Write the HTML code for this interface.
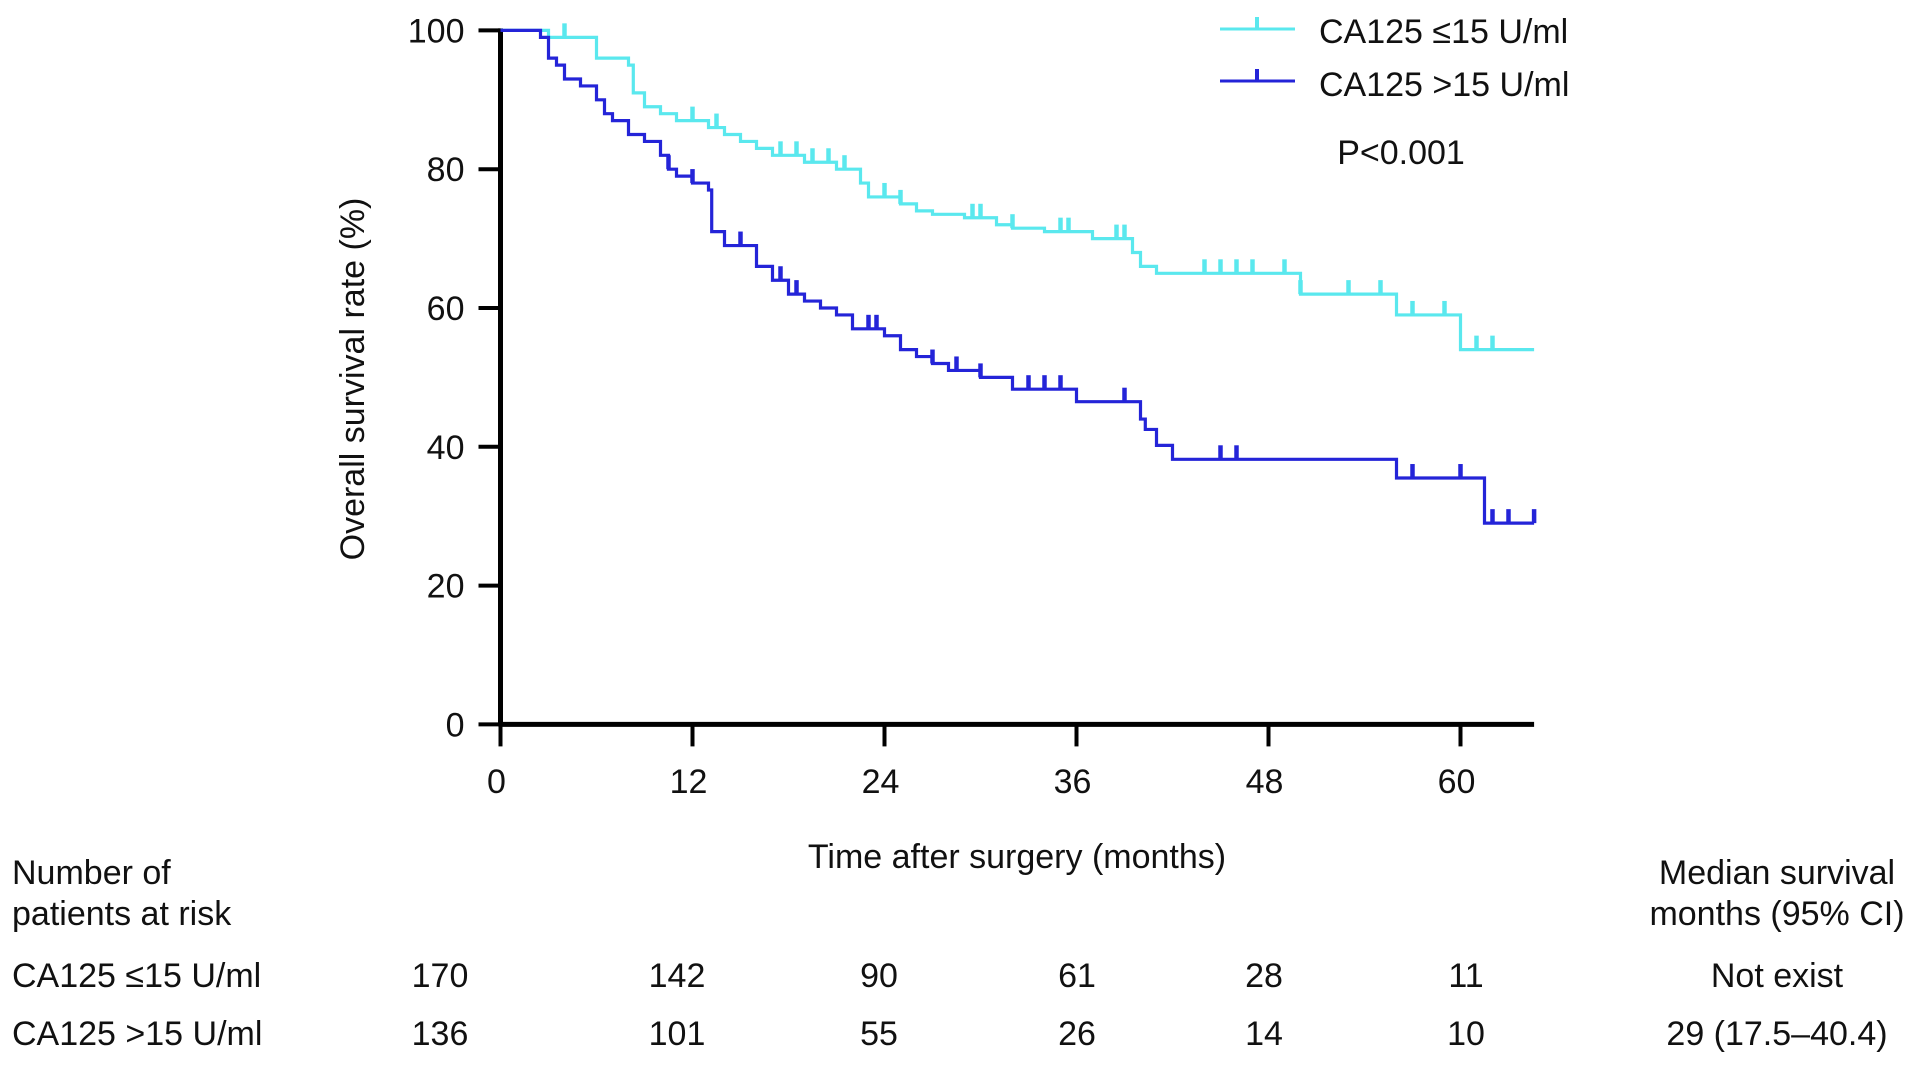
<!DOCTYPE html>
<html><head><meta charset="utf-8"><style>
body{margin:0;background:#fff;width:1913px;height:1063px;overflow:hidden;font-family:"Liberation Sans",Arial,sans-serif;}
svg text{font-family:"Liberation Sans",Arial,sans-serif;fill:#111;}
</style></head><body>
<svg id="chart" width="1913" height="1063" viewBox="0 0 1913 1063" xmlns="http://www.w3.org/2000/svg"></svg>
<script>
const xTicks=[0,12,24,36,48,60];
const yTicks=[0,20,40,60,80,100];
const lowTimes=[0,3,6,8,8.3,9,10,11,13,14,15,16,17,19,21,22.5,23,25,26,27,29,31,32,34,37,39.5,40,41,50,56,60];
const lowSurv=[100,99,96,95,91,89,88,87,86,85,84,83,82,81,80,78,76,75,74,73.5,73,72,71.5,71,70,68,66,65,62,59,54];
const lowCens=[4,12,13.5,17.5,18.5,19.5,20.5,21.5,24,25,29.5,30,32,35,35.5,38.5,39,44,45,46,47,49,50,53,55,57,59,61,62];
const highTimes=[0,2.5,3,3.5,4,5,6,6.5,7,8,9,10,10.5,11,12,13,13.2,14,16,17,18,19,20,21,22,24,25,26,27,28,30,32,36,40,40.3,41,42,56,61.5];
const highSurv=[100,99,96,95,93,92,90,88,87,85,84,82,80,79,78,77,71,69,66,64,62,61,60,59,57,56,54,53,52,51,50,48.3,46.5,44,42.5,40.2,38.2,35.5,29];
const highCens=[10.5,12,15,17.5,18.5,23,23.5,27,28.5,30,33,34,35,39,45,46,57,60,62,63,64.6];
const atRiskTimes=[0,12,24,36,48,60];
const atRiskLow=[170,142,90,61,28,11];
const atRiskHigh=[136,101,55,26,14,10];
const tEnd=64.6;

const svg=document.getElementById('chart');
const NS='http://www.w3.org/2000/svg';
const X0=500.5,PXM=16.0,Y0=724.4,PXP=6.94;
const FS=34;
function sx(t){return X0+t*PXM;}
function sy(v){return Y0-v*PXP;}
function mk(tag,attrs,parent){const e=document.createElementNS(NS,tag);for(const k in attrs)e.setAttribute(k,attrs[k]);(parent||svg).appendChild(e);return e;}
function txt(s,x,y,size,anchor,parent){const e=mk('text',{x:x,y:y,'font-size':size,'text-anchor':anchor||'start'},parent);e.textContent=s;return e;}

const ax=mk('g',{});


mk('line',{x1:X0,y1:sy(100)-2,x2:X0,y2:Y0+2,stroke:'#000','stroke-width':5},ax);
mk('line',{x1:X0-2,y1:Y0,x2:sx(tEnd),y2:Y0,stroke:'#000','stroke-width':5},ax);
yTicks.forEach(v=>{
  mk('line',{x1:X0-22,y1:sy(v),x2:X0,y2:sy(v),stroke:'#000','stroke-width':4},ax);
  const t=txt(String(v),X0-36,sy(v)+12,FS,'end',ax);
  
  
});
xTicks.forEach(v=>{
  mk('line',{x1:sx(v),y1:Y0,x2:sx(v),y2:Y0+22,stroke:'#000','stroke-width':4},ax);
  const t=txt(String(v),sx(v)-4,793,FS,'middle',ax);
  
  
});
const yt=txt('Overall survival rate (%)',0,0,FS,'middle');
yt.setAttribute('transform','translate(364,379) rotate(-90)');


const xt=txt('Time after surgery (months)',1017,868,FS,'middle');



function drawCurve(times,surv,cens,color,name){
  const g=mk('g',{});
  
  
  let d='M'+sx(times[0])+','+sy(surv[0]);
  for(let i=1;i<times.length;i++){d+=' H'+sx(times[i])+' V'+sy(surv[i]);}
  d+=' H'+sx(tEnd);
  mk('path',{d:d,fill:'none',stroke:color,'stroke-width':3.2},g);
  cens.forEach(c=>{
    let v=surv[0];
    for(let i=0;i<times.length;i++){if(times[i]<=c)v=surv[i];}
    const l=mk('line',{x1:sx(c),y1:sy(v),x2:sx(c),y2:sy(v)-14,stroke:color,'stroke-width':4.5},g);
    
    
  });
}
drawCurve(lowTimes,lowSurv,lowCens,'#5ae8ee','curve-ca125-low');
drawCurve(highTimes,highSurv,highCens,'#2424d8','curve-ca125-high');

const lg=mk('g',{});


mk('line',{x1:1220,y1:29,x2:1295,y2:29,stroke:'#5ae8ee','stroke-width':3},lg);
mk('line',{x1:1257,y1:29,x2:1257,y2:17,stroke:'#5ae8ee','stroke-width':4},lg);
txt('CA125 ≤15 U/ml',1319,43,FS,'start',lg);
mk('line',{x1:1220,y1:81,x2:1295,y2:81,stroke:'#2424d8','stroke-width':3},lg);
mk('line',{x1:1257,y1:81,x2:1257,y2:69,stroke:'#2424d8','stroke-width':4},lg);
txt('CA125 >15 U/ml',1319,96,FS,'start',lg);
const p=txt('P<0.001',1401,164,FS,'middle');



const tb=mk('g',{});


txt('Number of',12,884,FS,'start',tb);
txt('patients at risk',12,925,FS,'start',tb);
txt('CA125 ≤15 U/ml',12,987,FS,'start',tb);
txt('CA125 >15 U/ml',12,1045,FS,'start',tb);
txt('Median survival',1777,884,FS,'middle',tb);
txt('months (95% CI)',1777,925,FS,'middle',tb);
txt('Not exist',1777,987,FS,'middle',tb);
txt('29 (17.5–40.4)',1777,1045,FS,'middle',tb);
const colX=[440,677,879,1077,1264,1466];
atRiskTimes.forEach((t,i)=>{
  const a=txt(String(atRiskLow[i]),colX[i],987,FS,'middle',tb);
  
  
  const b=txt(String(atRiskHigh[i]),colX[i],1045,FS,'middle',tb);
  
  
});
</script>
</body></html>
